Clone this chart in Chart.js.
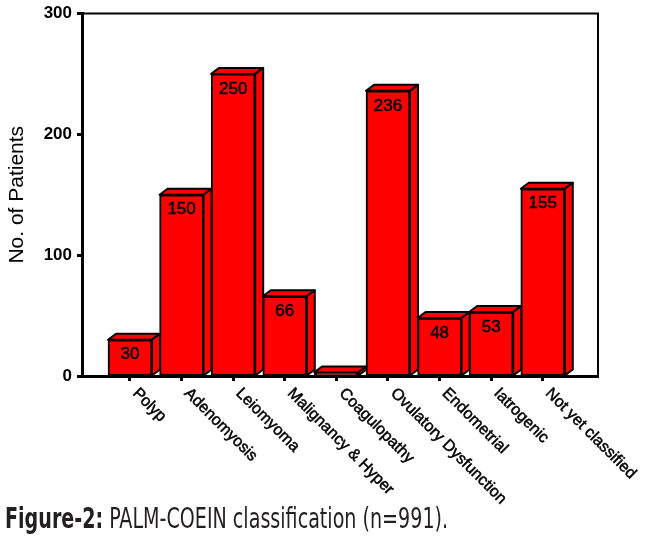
<!DOCTYPE html>
<html>
<head>
<meta charset="utf-8">
<script src="https://cdn.jsdelivr.net/npm/chart.js@4.4.1/dist/chart.umd.min.js"></script>
<style>
  body { margin: 0; background: #fff; }
  #wrap { position: relative; width: 650px; height: 542px; }
  #caption {
    position: absolute; left: 5px; top: 501px;
    font-family: "Liberation Sans Narrow", "DejaVu Sans Condensed", "Liberation Sans", sans-serif;
    font-stretch: condensed;
    font-size: 29px; color: #231f20; white-space: nowrap;
    transform-origin: left top;
  }
  #caption b { font-weight: bold; }
</style>
</head>
<body>
<div id="wrap">
  <canvas id="chart" width="650" height="542"></canvas>
  <div id="caption"><b>Figure-2:</b> PALM-COEIN classification (n=991).</div>
</div>
<script>
const categories = ["Polyp", "Adenomyosis", "Leiomyoma", "Malignancy & Hyper", "Coagulopathy",
                    "Ovulatory Dysfunction", "Endometrial", "Iatrogenic", "Not yet classified"];
const patients = [30, 150, 250, 66, 3, 236, 48, 53, 155];
const yTicks = [0, 100, 200, 300];

const RED = '#ff0000';
const DX = 8, DY = 6;

// draws the depth faces, the value labels, the frame and the slanted category names
const boxBars = {
    id: 'boxBars',
    afterDatasetsDraw(chart) {
        const ctx = chart.ctx;
        const meta = chart.getDatasetMeta(0);
        ctx.save();
        ctx.lineWidth = 2;
        ctx.lineJoin = 'round';
        ctx.strokeStyle = '#000';
        ctx.fillStyle = RED;
        meta.data.forEach((bar) => {
            const p = bar.getProps(['x', 'y', 'base', 'width'], true);
            const l = p.x - p.width / 2, r = p.x + p.width / 2;
            // top face
            ctx.beginPath();
            ctx.moveTo(l, p.y);
            ctx.lineTo(l + DX, p.y - DY);
            ctx.lineTo(r + DX, p.y - DY);
            ctx.lineTo(r, p.y);
            ctx.closePath();
            ctx.fill(); ctx.stroke();
            // side face
            ctx.beginPath();
            ctx.moveTo(r, p.y);
            ctx.lineTo(r + DX, p.y - DY);
            ctx.lineTo(r + DX, p.base - DY);
            ctx.lineTo(r, p.base);
            ctx.closePath();
            ctx.fill(); ctx.stroke();
        });
        // values
        ctx.fillStyle = '#000';
        ctx.lineWidth = 0.5;
        ctx.font = '17px "Liberation Sans", Arial, sans-serif';
        ctx.textAlign = 'center';
        ctx.textBaseline = 'middle';
        meta.data.forEach((bar, i) => {
            const p = bar.getProps(['x', 'y', 'base'], true);
            if (p.base - p.y < 24) return;
            ctx.fillText(String(patients[i]), p.x, p.y + 15);
            ctx.strokeText(String(patients[i]), p.x, p.y + 15);
        });
        ctx.restore();
    },
    afterDraw(chart) {
        const ctx = chart.ctx;
        const a = chart.chartArea;
        ctx.save();
        ctx.strokeStyle = '#000';
        ctx.lineWidth = 2;
        ctx.beginPath();
        ctx.moveTo(a.left, a.top);
        ctx.lineTo(a.right, a.top);
        ctx.lineTo(a.right, a.bottom);
        ctx.stroke();

        const xs = chart.scales.x;
        ctx.fillStyle = '#000';
        ctx.lineWidth = 0.5;
        ctx.font = '16px "Liberation Sans", Arial, sans-serif';
        ctx.textAlign = 'left';
        ctx.textBaseline = 'alphabetic';
        categories.forEach((name, i) => {
            const px = xs.getPixelForValue(i);
            ctx.save();
            ctx.translate(px + 2, a.bottom + 18);
            ctx.rotate(Math.PI / 4);
            ctx.fillText(name, 0, 0);
            ctx.strokeText(name, 0, 0);
            ctx.restore();
        });
        ctx.restore();
    }
};

new Chart(document.getElementById('chart'), {
    type: 'bar',
    data: {
        datasets: [{
            data: patients.map((v, i) => ({ x: i, y: v })),
            backgroundColor: RED,
            borderColor: '#000',
            borderWidth: 2,
            borderSkipped: false,
            barThickness: 44
        }]
    },
    options: {
        responsive: false,
        animation: false,
        devicePixelRatio: 1,
        layout: { padding: { top: 9, right: 52, left: 0, bottom: 0 } },
        plugins: {
            legend: { display: false },
            tooltip: { enabled: false }
        },
        scales: {
            x: {
                type: 'linear',
                offset: false,
                min: -0.93,
                max: 9.07,
                afterBuildTicks: (s) => { s.ticks = categories.map((c, i) => ({ value: i })); },
                afterFit: (s) => { s.height = 166; },
                ticks: { display: false },
                grid: { offset: false, drawOnChartArea: false, drawTicks: true, tickLength: 5, tickWidth: 3, tickColor: '#000' },
                border: { display: true, color: '#000', width: 3 }
            },
            y: {
                min: 0,
                max: 300,
                afterBuildTicks: (s) => { s.ticks = yTicks.map(v => ({ value: v })); },
                afterFit: (s) => { s.width = 82; },
                ticks: {
                    color: '#000',
                    padding: 5,
                    font: { family: '"Liberation Sans", Arial, sans-serif', size: 17, weight: 'bold', lineHeight: 1 }
                },
                grid: { drawOnChartArea: false, drawTicks: true, tickLength: 5, tickWidth: 3, tickColor: '#000' },
                border: { display: true, color: '#000', width: 3 },
                title: {
                    display: true,
                    text: 'No. of Patients',
                    color: '#000',
                    padding: { top: 5, bottom: 4 },
                    font: { family: '"Liberation Sans", Arial, sans-serif', size: 21 }
                }
            }
        }
    },
    plugins: [boxBars]
});

// squeeze the caption to the width of the printed one
const cap = document.getElementById('caption');
cap.style.transform = 'scaleX(' + (443 / cap.offsetWidth) + ')';
</script>
</body>
</html>
